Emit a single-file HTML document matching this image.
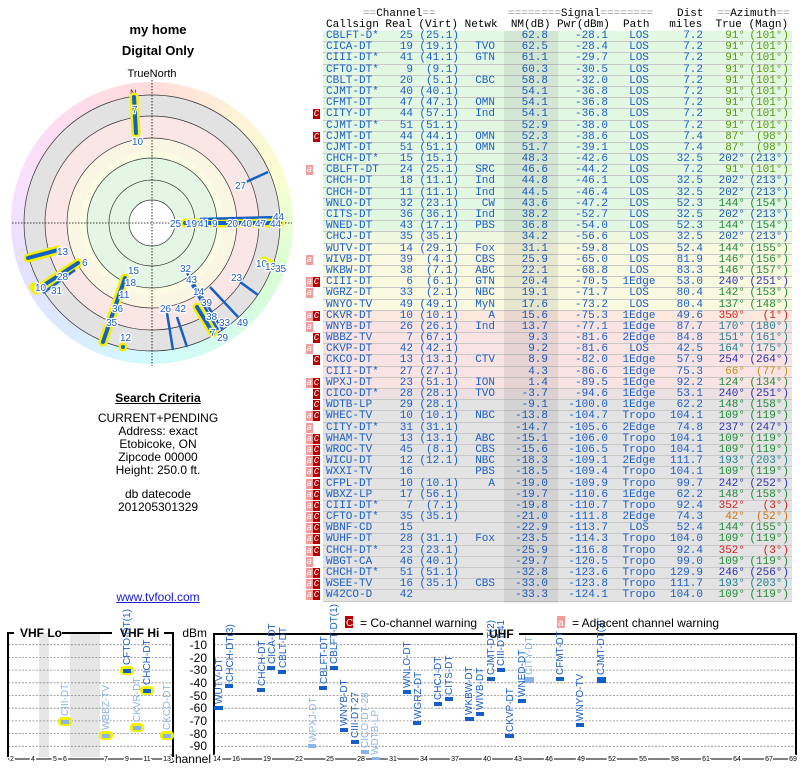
<!DOCTYPE html>
<html><head><meta charset="utf-8"><style>
body{margin:0;width:800px;height:768px;background:#fff;position:relative;overflow:hidden;font-family:"Liberation Sans",sans-serif}
.t{position:absolute;left:0;width:316px;text-align:center;font-size:12px;color:#000}
.mono{font-family:"Liberation Mono",monospace;font-size:11px;color:#1a5fc8}
.hd{position:absolute;white-space:pre;font-family:"Liberation Mono",monospace;font-size:11px;color:#000;line-height:11px}
#tbl{position:absolute;left:323px;top:31px;width:469px}
.r{position:relative;height:11.2px;box-sizing:border-box;border-bottom:1px solid #c8c8c8;line-height:11px;white-space:pre}
.r span{position:absolute;top:0}
.G{background:#e3f8e3}.Y1{background:#eff8df}.Y{background:#f9f9e0}.P1{background:#fce8dc}.P{background:#fae3e3}.P2{background:#ece0e2}.Q{background:#e3e3e3}
.cs{left:3px}.re{right:379px}.vi{right:333px}.nw{right:297px}.nm{right:244px}.pw{right:184px}.pa{left:297px;width:38px;text-align:center}.di{right:89px}.tr{right:47px}.mg{right:3px}
.ba{position:absolute;top:0;left:-17px;width:7px;height:10px;background:#f39a9a;color:#fff;font-size:9px;line-height:10px;text-align:center}
.bc{position:absolute;top:0;left:-10px;width:7px;height:10px;background:#b80000;color:#fff;font-size:9px;line-height:10px;text-align:center}
.ol{color:#5a9a10}.bl{color:#2058b0}.gr{color:#1f8a3a}.pu{color:#3030b0}.rd{color:#d02020}.te{color:#20808f}.go{color:#c09020}.or{color:#d07010}
</style></head><body>
<div class="t" style="top:22px;font-size:13px;font-weight:bold">my home</div>
<div class="t" style="top:43px;font-size:13px;font-weight:bold">Digital Only</div>
<div class="t" style="top:68px;left:0;width:304px;font-size:11px">TrueNorth</div>
<div style="position:absolute;left:11px;top:82px;width:282px;height:282px;border-radius:50%;background:conic-gradient(hsl(0,100%,93%),hsl(40,100%,92%),hsl(70,100%,91%),hsl(110,90%,91%),hsl(150,90%,91%),hsl(185,100%,91%),hsl(215,100%,93%),hsl(250,100%,94%),hsl(290,100%,94%),hsl(330,100%,93%),hsl(360,100%,93%))"></div>
<svg style="position:absolute;left:0;top:0" width="320" height="380" viewBox="0 0 320 380">
<circle cx="152" cy="223" r="128" fill="#e2e2e2" stroke="#333" stroke-width="0.7"/>
<circle cx="152" cy="223" r="107" fill="#fbe6e6" stroke="#333" stroke-width="0.7"/>
<circle cx="152" cy="223" r="85" fill="#fbf6e4" stroke="#333" stroke-width="0.7"/>
<circle cx="152" cy="223" r="72" fill="#f9fbe2" stroke="none"/>
<circle cx="152" cy="223" r="65" fill="#e4f6e4" stroke="#333" stroke-width="0.7"/>
<circle cx="152" cy="223" r="43" fill="#e4f6e4" stroke="#333" stroke-width="0.7"/>
<circle cx="152" cy="223" r="23" fill="#fff" stroke="#333" stroke-width="0.7"/>
<line x1="12" y1="223" x2="292" y2="223" stroke="#000" stroke-width="0.8" stroke-dasharray="1.5,1.5"/>
<line x1="152" y1="80" x2="152" y2="366" stroke="#000" stroke-width="0.8" stroke-dasharray="1.5,1.5"/>
<text x="130" y="96" font-size="9" fill="#c00000">N</text>
<g stroke="#f0f000" stroke-width="9" stroke-linecap="round">
<line x1="134" y1="97" x2="136" y2="133"/><line x1="185" y1="223" x2="280" y2="223"/><line x1="28" y1="258" x2="58" y2="250"/><line x1="41" y1="287" x2="78" y2="263"/><line x1="125" y1="278" x2="103" y2="342"/><line x1="123" y1="347" x2="123" y2="347"/><line x1="197" y1="307" x2="213" y2="333"/><line x1="264" y1="261" x2="270" y2="264"/><line x1="34" y1="287" x2="36" y2="290"/>
</g>
<g stroke="#1560c8" stroke-width="4" stroke-linecap="round">
<line x1="134" y1="97" x2="136" y2="133"/><line x1="185" y1="223" x2="280" y2="223"/><line x1="28" y1="258" x2="58" y2="250"/><line x1="41" y1="287" x2="78" y2="263"/><line x1="125" y1="278" x2="103" y2="342"/><line x1="123" y1="347" x2="123" y2="347"/><line x1="197" y1="307" x2="213" y2="333"/>
</g>
<g stroke="#1560c8" stroke-width="2.5">
<line x1="200" y1="219" x2="280" y2="217"/><line x1="246" y1="182" x2="268" y2="172"/><line x1="167" y1="313" x2="173" y2="350"/><line x1="177" y1="317" x2="187" y2="347"/><line x1="187" y1="273" x2="223" y2="330"/><line x1="192" y1="285" x2="218" y2="330"/><line x1="210" y1="287" x2="238" y2="317"/><line x1="240" y1="282" x2="258" y2="295"/><line x1="43" y1="293" x2="75" y2="270"/>
</g>
<g font-size="10" fill="#1a5fc8" stroke="#fff" stroke-width="2.5" paint-order="stroke" font-family="Liberation Sans">
<text x="132" y="113">7</text><text x="132" y="145">10</text><text x="235" y="189">27</text>
<text x="170" y="227">25</text><text x="186" y="227">19</text><text x="198" y="227">41</text><text x="212" y="227">9</text><text x="227" y="227">20</text><text x="241" y="227">40</text><text x="255" y="227">47</text><text x="270" y="227">44</text><text x="273" y="220">44</text>
<text x="57" y="255">13</text><text x="82" y="266">6</text><text x="57" y="280">28</text><text x="35" y="291">10</text><text x="51" y="294">31</text>
<text x="128" y="274">15</text><text x="125" y="286">18</text><text x="119" y="298">11</text><text x="112" y="312">36</text><text x="106" y="326">35</text><text x="120" y="341">12</text>
<text x="160" y="312">26</text><text x="175" y="312">42</text><text x="180" y="272">32</text><text x="186" y="283">43</text><text x="193" y="295">14</text><text x="201" y="306">39</text><text x="206" y="320">38</text><text x="219" y="326">33</text><text x="237" y="326">49</text><text x="231" y="281">23</text><text x="210" y="336">7</text><text x="217" y="341">29</text>
<text x="256" y="267">10</text><text x="265" y="270">13</text><text x="275" y="272">35</text>
</g>
</svg>
<div class="t" style="top:391px;font-weight:bold;text-decoration:underline">Search Criteria</div>
<div class="t" style="top:411px">CURRENT+PENDING</div>
<div class="t" style="top:424px">Address: exact</div>
<div class="t" style="top:437px">Etobicoke, ON</div>
<div class="t" style="top:450px">Zipcode 00000</div>
<div class="t" style="top:463px">Height: 250.0 ft.</div>
<div class="t" style="top:487px">db datecode</div>
<div class="t" style="top:500px">201205301329</div>
<div class="t" style="top:590px;color:#1a1ad0;text-decoration:underline">www.tvfool.com</div>

<div class="hd" style="left:363px;top:9px"><span style="color:#999">==</span>Channel<span style="color:#999">==</span></div>
<div class="hd" style="left:508px;top:9px"><span style="color:#999">========</span>Signal<span style="color:#999">========</span></div>
<div class="hd" style="left:677px;top:9px">Dist</div>
<div class="hd" style="left:717px;top:9px"><span style="color:#999">==</span>Azimuth<span style="color:#999">==</span></div>
<div class="hd" style="left:326px;top:20px">Callsign Real (Virt) Netwk  NM(dB) Pwr(dBm)  Path   miles  True (Magn)</div>
<div style="position:absolute;left:504px;top:31px;width:54px;height:572px;background:rgba(0,0,0,0.07);z-index:2;pointer-events:none"></div>
<div id="tbl" class="mono">
<div class="r G"><span class="cs">CBLFT-D*</span><span class="re">25</span><span class="vi">(25.1)</span><span class="nm">62.8</span><span class="pw">-28.1</span><span class="pa">LOS</span><span class="di">7.2</span><span class="tr ol">91°</span><span class="mg ol">(101°)</span></div>
<div class="r G"><span class="cs">CICA-DT</span><span class="re">19</span><span class="vi">(19.1)</span><span class="nw">TVO</span><span class="nm">62.5</span><span class="pw">-28.4</span><span class="pa">LOS</span><span class="di">7.2</span><span class="tr ol">91°</span><span class="mg ol">(101°)</span></div>
<div class="r G"><span class="cs">CIII-DT*</span><span class="re">41</span><span class="vi">(41.1)</span><span class="nw">GTN</span><span class="nm">61.1</span><span class="pw">-29.7</span><span class="pa">LOS</span><span class="di">7.2</span><span class="tr ol">91°</span><span class="mg ol">(101°)</span></div>
<div class="r G"><span class="cs">CFTO-DT*</span><span class="re">9</span><span class="vi">(9.1)</span><span class="nm">60.3</span><span class="pw">-30.5</span><span class="pa">LOS</span><span class="di">7.2</span><span class="tr ol">91°</span><span class="mg ol">(101°)</span></div>
<div class="r G"><span class="cs">CBLT-DT</span><span class="re">20</span><span class="vi">(5.1)</span><span class="nw">CBC</span><span class="nm">58.8</span><span class="pw">-32.0</span><span class="pa">LOS</span><span class="di">7.2</span><span class="tr ol">91°</span><span class="mg ol">(101°)</span></div>
<div class="r G"><span class="cs">CJMT-DT*</span><span class="re">40</span><span class="vi">(40.1)</span><span class="nm">54.1</span><span class="pw">-36.8</span><span class="pa">LOS</span><span class="di">7.2</span><span class="tr ol">91°</span><span class="mg ol">(101°)</span></div>
<div class="r G"><span class="cs">CFMT-DT</span><span class="re">47</span><span class="vi">(47.1)</span><span class="nw">OMN</span><span class="nm">54.1</span><span class="pw">-36.8</span><span class="pa">LOS</span><span class="di">7.2</span><span class="tr ol">91°</span><span class="mg ol">(101°)</span></div>
<div class="r G"><i class="bc">C</i><span class="cs">CITY-DT</span><span class="re">44</span><span class="vi">(57.1)</span><span class="nw">Ind</span><span class="nm">54.1</span><span class="pw">-36.8</span><span class="pa">LOS</span><span class="di">7.2</span><span class="tr ol">91°</span><span class="mg ol">(101°)</span></div>
<div class="r G"><span class="cs">CJMT-DT*</span><span class="re">51</span><span class="vi">(51.1)</span><span class="nm">52.9</span><span class="pw">-38.0</span><span class="pa">LOS</span><span class="di">7.2</span><span class="tr ol">91°</span><span class="mg ol">(101°)</span></div>
<div class="r G"><i class="bc">C</i><span class="cs">CJMT-DT</span><span class="re">44</span><span class="vi">(44.1)</span><span class="nw">OMN</span><span class="nm">52.3</span><span class="pw">-38.6</span><span class="pa">LOS</span><span class="di">7.4</span><span class="tr ol">87°</span><span class="mg ol">(98°)</span></div>
<div class="r G"><span class="cs">CJMT-DT</span><span class="re">51</span><span class="vi">(51.1)</span><span class="nw">OMN</span><span class="nm">51.7</span><span class="pw">-39.1</span><span class="pa">LOS</span><span class="di">7.4</span><span class="tr ol">87°</span><span class="mg ol">(98°)</span></div>
<div class="r G"><span class="cs">CHCH-DT*</span><span class="re">15</span><span class="vi">(15.1)</span><span class="nm">48.3</span><span class="pw">-42.6</span><span class="pa">LOS</span><span class="di">32.5</span><span class="tr bl">202°</span><span class="mg bl">(213°)</span></div>
<div class="r G"><i class="ba">a</i><span class="cs">CBLFT-DT</span><span class="re">24</span><span class="vi">(25.1)</span><span class="nw">SRC</span><span class="nm">46.6</span><span class="pw">-44.2</span><span class="pa">LOS</span><span class="di">7.2</span><span class="tr ol">91°</span><span class="mg ol">(101°)</span></div>
<div class="r G"><span class="cs">CHCH-DT</span><span class="re">18</span><span class="vi">(11.1)</span><span class="nw">Ind</span><span class="nm">44.8</span><span class="pw">-46.1</span><span class="pa">LOS</span><span class="di">32.5</span><span class="tr bl">202°</span><span class="mg bl">(213°)</span></div>
<div class="r G"><span class="cs">CHCH-DT</span><span class="re">11</span><span class="vi">(11.1)</span><span class="nw">Ind</span><span class="nm">44.5</span><span class="pw">-46.4</span><span class="pa">LOS</span><span class="di">32.5</span><span class="tr bl">202°</span><span class="mg bl">(213°)</span></div>
<div class="r G"><span class="cs">WNLO-DT</span><span class="re">32</span><span class="vi">(23.1)</span><span class="nw">CW</span><span class="nm">43.6</span><span class="pw">-47.2</span><span class="pa">LOS</span><span class="di">52.3</span><span class="tr gr">144°</span><span class="mg gr">(154°)</span></div>
<div class="r G"><span class="cs">CITS-DT</span><span class="re">36</span><span class="vi">(36.1)</span><span class="nw">Ind</span><span class="nm">38.2</span><span class="pw">-52.7</span><span class="pa">LOS</span><span class="di">32.5</span><span class="tr bl">202°</span><span class="mg bl">(213°)</span></div>
<div class="r G"><span class="cs">WNED-DT</span><span class="re">43</span><span class="vi">(17.1)</span><span class="nw">PBS</span><span class="nm">36.8</span><span class="pw">-54.0</span><span class="pa">LOS</span><span class="di">52.3</span><span class="tr gr">144°</span><span class="mg gr">(154°)</span></div>
<div class="r Y1"><span class="cs">CHCJ-DT</span><span class="re">35</span><span class="vi">(35.1)</span><span class="nm">34.2</span><span class="pw">-56.6</span><span class="pa">LOS</span><span class="di">32.5</span><span class="tr bl">202°</span><span class="mg bl">(213°)</span></div>
<div class="r Y"><span class="cs">WUTV-DT</span><span class="re">14</span><span class="vi">(29.1)</span><span class="nw">Fox</span><span class="nm">31.1</span><span class="pw">-59.8</span><span class="pa">LOS</span><span class="di">52.4</span><span class="tr gr">144°</span><span class="mg gr">(155°)</span></div>
<div class="r Y"><i class="ba">a</i><span class="cs">WIVB-DT</span><span class="re">39</span><span class="vi">(4.1)</span><span class="nw">CBS</span><span class="nm">25.9</span><span class="pw">-65.0</span><span class="pa">LOS</span><span class="di">81.9</span><span class="tr gr">146°</span><span class="mg gr">(156°)</span></div>
<div class="r Y"><span class="cs">WKBW-DT</span><span class="re">38</span><span class="vi">(7.1)</span><span class="nw">ABC</span><span class="nm">22.1</span><span class="pw">-68.8</span><span class="pa">LOS</span><span class="di">83.3</span><span class="tr gr">146°</span><span class="mg gr">(157°)</span></div>
<div class="r Y"><i class="ba">a</i><i class="bc">C</i><span class="cs">CIII-DT</span><span class="re">6</span><span class="vi">(6.1)</span><span class="nw">GTN</span><span class="nm">20.4</span><span class="pw">-70.5</span><span class="pa">1Edge</span><span class="di">53.0</span><span class="tr pu">240°</span><span class="mg pu">(251°)</span></div>
<div class="r Y"><i class="ba">a</i><span class="cs">WGRZ-DT</span><span class="re">33</span><span class="vi">(2.1)</span><span class="nw">NBC</span><span class="nm">19.1</span><span class="pw">-71.7</span><span class="pa">LOS</span><span class="di">80.4</span><span class="tr gr">142°</span><span class="mg gr">(153°)</span></div>
<div class="r Y"><span class="cs">WNYO-TV</span><span class="re">49</span><span class="vi">(49.1)</span><span class="nw">MyN</span><span class="nm">17.6</span><span class="pw">-73.2</span><span class="pa">LOS</span><span class="di">80.4</span><span class="tr gr">137°</span><span class="mg gr">(148°)</span></div>
<div class="r P1"><i class="ba">a</i><i class="bc">C</i><span class="cs">CKVR-DT</span><span class="re">10</span><span class="vi">(10.1)</span><span class="nw">A</span><span class="nm">15.6</span><span class="pw">-75.3</span><span class="pa">1Edge</span><span class="di">49.6</span><span class="tr rd">350°</span><span class="mg rd">(1°)</span></div>
<div class="r P"><i class="ba">a</i><span class="cs">WNYB-DT</span><span class="re">26</span><span class="vi">(26.1)</span><span class="nw">Ind</span><span class="nm">13.7</span><span class="pw">-77.1</span><span class="pa">1Edge</span><span class="di">87.7</span><span class="tr te">170°</span><span class="mg te">(180°)</span></div>
<div class="r P"><i class="bc">C</i><span class="cs">WBBZ-TV</span><span class="re">7</span><span class="vi">(67.1)</span><span class="nm">9.3</span><span class="pw">-81.6</span><span class="pa">2Edge</span><span class="di">84.8</span><span class="tr te">151°</span><span class="mg te">(161°)</span></div>
<div class="r P"><i class="ba">a</i><span class="cs">CKVP-DT</span><span class="re">42</span><span class="vi">(42.1)</span><span class="nm">9.2</span><span class="pw">-81.6</span><span class="pa">LOS</span><span class="di">42.5</span><span class="tr te">164°</span><span class="mg te">(175°)</span></div>
<div class="r P"><i class="bc">C</i><span class="cs">CKCO-DT</span><span class="re">13</span><span class="vi">(13.1)</span><span class="nw">CTV</span><span class="nm">8.9</span><span class="pw">-82.0</span><span class="pa">1Edge</span><span class="di">57.9</span><span class="tr pu">254°</span><span class="mg pu">(264°)</span></div>
<div class="r P"><span class="cs">CIII-DT*</span><span class="re">27</span><span class="vi">(27.1)</span><span class="nm">4.3</span><span class="pw">-86.6</span><span class="pa">1Edge</span><span class="di">75.3</span><span class="tr go">66°</span><span class="mg go">(77°)</span></div>
<div class="r P"><i class="ba">a</i><i class="bc">C</i><span class="cs">WPXJ-DT</span><span class="re">23</span><span class="vi">(51.1)</span><span class="nw">ION</span><span class="nm">1.4</span><span class="pw">-89.5</span><span class="pa">1Edge</span><span class="di">92.2</span><span class="tr gr">124°</span><span class="mg gr">(134°)</span></div>
<div class="r P2"><i class="bc">C</i><span class="cs">CICO-DT*</span><span class="re">28</span><span class="vi">(28.1)</span><span class="nw">TVO</span><span class="nm">-3.7</span><span class="pw">-94.6</span><span class="pa">1Edge</span><span class="di">53.1</span><span class="tr pu">240°</span><span class="mg pu">(251°)</span></div>
<div class="r Q"><i class="bc">C</i><span class="cs">WDTB-LP</span><span class="re">29</span><span class="vi">(28.1)</span><span class="nm">-9.1</span><span class="pw">-100.0</span><span class="pa">1Edge</span><span class="di">62.2</span><span class="tr gr">148°</span><span class="mg gr">(158°)</span></div>
<div class="r Q"><i class="ba">a</i><i class="bc">C</i><span class="cs">WHEC-TV</span><span class="re">10</span><span class="vi">(10.1)</span><span class="nw">NBC</span><span class="nm">-13.8</span><span class="pw">-104.7</span><span class="pa">Tropo</span><span class="di">104.1</span><span class="tr gr">109°</span><span class="mg gr">(119°)</span></div>
<div class="r Q"><i class="ba">a</i><span class="cs">CITY-DT*</span><span class="re">31</span><span class="vi">(31.1)</span><span class="nm">-14.7</span><span class="pw">-105.6</span><span class="pa">2Edge</span><span class="di">74.8</span><span class="tr pu">237°</span><span class="mg pu">(247°)</span></div>
<div class="r Q"><i class="ba">a</i><i class="bc">C</i><span class="cs">WHAM-TV</span><span class="re">13</span><span class="vi">(13.1)</span><span class="nw">ABC</span><span class="nm">-15.1</span><span class="pw">-106.0</span><span class="pa">Tropo</span><span class="di">104.1</span><span class="tr gr">109°</span><span class="mg gr">(119°)</span></div>
<div class="r Q"><i class="ba">a</i><i class="bc">C</i><span class="cs">WROC-TV</span><span class="re">45</span><span class="vi">(8.1)</span><span class="nw">CBS</span><span class="nm">-15.6</span><span class="pw">-106.5</span><span class="pa">Tropo</span><span class="di">104.1</span><span class="tr gr">109°</span><span class="mg gr">(119°)</span></div>
<div class="r Q"><i class="ba">a</i><i class="bc">C</i><span class="cs">WICU-DT</span><span class="re">12</span><span class="vi">(12.1)</span><span class="nw">NBC</span><span class="nm">-18.3</span><span class="pw">-109.1</span><span class="pa">2Edge</span><span class="di">111.7</span><span class="tr te">193°</span><span class="mg te">(203°)</span></div>
<div class="r Q"><i class="ba">a</i><i class="bc">C</i><span class="cs">WXXI-TV</span><span class="re">16</span><span class="nw">PBS</span><span class="nm">-18.5</span><span class="pw">-109.4</span><span class="pa">Tropo</span><span class="di">104.1</span><span class="tr gr">109°</span><span class="mg gr">(119°)</span></div>
<div class="r Q"><i class="ba">a</i><i class="bc">C</i><span class="cs">CFPL-DT</span><span class="re">10</span><span class="vi">(10.1)</span><span class="nw">A</span><span class="nm">-19.0</span><span class="pw">-109.9</span><span class="pa">Tropo</span><span class="di">99.7</span><span class="tr pu">242°</span><span class="mg pu">(252°)</span></div>
<div class="r Q"><i class="ba">a</i><i class="bc">C</i><span class="cs">WBXZ-LP</span><span class="re">17</span><span class="vi">(56.1)</span><span class="nm">-19.7</span><span class="pw">-110.6</span><span class="pa">1Edge</span><span class="di">62.2</span><span class="tr gr">148°</span><span class="mg gr">(158°)</span></div>
<div class="r Q"><i class="ba">a</i><i class="bc">C</i><span class="cs">CIII-DT*</span><span class="re">7</span><span class="vi">(7.1)</span><span class="nm">-19.8</span><span class="pw">-110.7</span><span class="pa">Tropo</span><span class="di">92.4</span><span class="tr rd">352°</span><span class="mg rd">(3°)</span></div>
<div class="r Q"><i class="ba">a</i><i class="bc">C</i><span class="cs">CFTO-DT*</span><span class="re">35</span><span class="vi">(35.1)</span><span class="nm">-21.0</span><span class="pw">-111.8</span><span class="pa">2Edge</span><span class="di">74.3</span><span class="tr or">42°</span><span class="mg or">(52°)</span></div>
<div class="r Q"><i class="ba">a</i><i class="bc">C</i><span class="cs">WBNF-CD</span><span class="re">15</span><span class="nm">-22.9</span><span class="pw">-113.7</span><span class="pa">LOS</span><span class="di">52.4</span><span class="tr gr">144°</span><span class="mg gr">(155°)</span></div>
<div class="r Q"><i class="ba">a</i><i class="bc">C</i><span class="cs">WUHF-DT</span><span class="re">28</span><span class="vi">(31.1)</span><span class="nw">Fox</span><span class="nm">-23.5</span><span class="pw">-114.3</span><span class="pa">Tropo</span><span class="di">104.0</span><span class="tr gr">109°</span><span class="mg gr">(119°)</span></div>
<div class="r Q"><i class="ba">a</i><i class="bc">C</i><span class="cs">CHCH-DT*</span><span class="re">23</span><span class="vi">(23.1)</span><span class="nm">-25.9</span><span class="pw">-116.8</span><span class="pa">Tropo</span><span class="di">92.4</span><span class="tr rd">352°</span><span class="mg rd">(3°)</span></div>
<div class="r Q"><i class="ba">a</i><span class="cs">WBGT-CA</span><span class="re">46</span><span class="vi">(40.1)</span><span class="nm">-29.7</span><span class="pw">-120.5</span><span class="pa">Tropo</span><span class="di">99.0</span><span class="tr gr">109°</span><span class="mg gr">(119°)</span></div>
<div class="r Q"><i class="ba">a</i><i class="bc">C</i><span class="cs">CHCH-DT*</span><span class="re">51</span><span class="vi">(51.1)</span><span class="nm">-32.8</span><span class="pw">-123.6</span><span class="pa">Tropo</span><span class="di">129.9</span><span class="tr pu">246°</span><span class="mg pu">(256°)</span></div>
<div class="r Q"><i class="ba">a</i><i class="bc">C</i><span class="cs">WSEE-TV</span><span class="re">16</span><span class="vi">(35.1)</span><span class="nw">CBS</span><span class="nm">-33.0</span><span class="pw">-123.8</span><span class="pa">Tropo</span><span class="di">111.7</span><span class="tr te">193°</span><span class="mg te">(203°)</span></div>
<div class="r Q"><i class="ba">a</i><i class="bc">C</i><span class="cs">W42CO-D</span><span class="re">42</span><span class="nm">-33.3</span><span class="pw">-124.1</span><span class="pa">Tropo</span><span class="di">104.0</span><span class="tr gr">109°</span><span class="mg gr">(119°)</span></div>
</div>

<svg style="position:absolute;left:0;top:600px" width="800" height="168" viewBox="0 600 800 168" font-family="Liberation Sans">
<rect x="39" y="633" width="10" height="124" fill="#e6e6e6"/><rect x="70" y="633" width="30" height="124" fill="#e6e6e6"/>
<g stroke="#888" stroke-width="0.8" stroke-dasharray="2,1.5">
<path d="M8 644.7H173M8 657.4H173M8 670.1H173M8 682.8H173M8 695.5H173M8 708.2H173M8 720.9H173M8 733.6H173M8 746.3H173"/>
<path d="M214 644.7H796M214 657.4H796M214 670.1H796M214 682.8H796M214 695.5H796M214 708.2H796M214 720.9H796M214 733.6H796M214 746.3H796"/>
</g>
<g stroke="#000" stroke-width="2" fill="none">
<path d="M8 757V633H14M62 633H112M164 633H173V757"/>
<path d="M214 757V634H483M519 634H796V757"/>
</g>
<g font-size="12" font-weight="bold"><text x="20" y="637">VHF Lo</text><text x="120" y="637">VHF Hi</text><text x="489" y="638">UHF</text></g>
<g font-size="12" text-anchor="end"><text x="207" y="637">dBm</text><text x="207" y="649">-10</text><text x="207" y="662">-20</text><text x="207" y="674">-30</text><text x="207" y="687">-40</text><text x="207" y="700">-50</text><text x="207" y="712">-60</text><text x="207" y="725">-70</text><text x="207" y="738">-80</text><text x="207" y="750">-90</text><text x="211" y="763">Channel</text></g>
<line x1="8" y1="759" x2="173" y2="759" stroke="#000"/><line x1="214" y1="759" x2="796" y2="759" stroke="#000"/>
<g font-size="7" text-anchor="middle" stroke="#fff" stroke-width="3" paint-order="stroke">
<text x="12" y="761">2</text><text x="33" y="761">4</text><text x="55" y="761">5</text><text x="65" y="761">6</text><text x="106" y="761">7</text><text x="127" y="761">9</text><text x="147" y="761">11</text><text x="167" y="761">13</text>
<text x="217" y="761">14</text><text x="236" y="761">16</text><text x="267" y="761">19</text><text x="299" y="761">22</text><text x="330" y="761">25</text><text x="361" y="761">28</text><text x="393" y="761">31</text><text x="424" y="761">34</text><text x="455" y="761">37</text><text x="487" y="761">40</text><text x="518" y="761">43</text><text x="549" y="761">46</text><text x="581" y="761">49</text><text x="612" y="761">52</text><text x="643" y="761">55</text><text x="675" y="761">58</text><text x="706" y="761">61</text><text x="737" y="761">64</text><text x="769" y="761">67</text><text x="793" y="761">69</text>
</g>
<g fill="#f0f000"><rect x="58" y="717" width="14" height="9" rx="4"/><rect x="99" y="731" width="14" height="9" rx="4"/><rect x="120" y="666" width="14" height="9" rx="4"/><rect x="130" y="723" width="14" height="9" rx="4"/><rect x="140" y="686" width="14" height="9" rx="4"/><rect x="160" y="731" width="14" height="9" rx="4"/></g>
<g fill="#1560c8"><rect x="123" y="669" width="8" height="4"/><rect x="143" y="689" width="8" height="4"/>
<rect x="214" y="706" width="9" height="4"/><rect x="225" y="684" width="8" height="4"/><rect x="257" y="688" width="8" height="4"/><rect x="267" y="666" width="8" height="4"/><rect x="278" y="670" width="8" height="4"/><rect x="319" y="686" width="8" height="4"/><rect x="330" y="666" width="8" height="4"/><rect x="340" y="728" width="8" height="4"/><rect x="351" y="740" width="8" height="4"/><rect x="403" y="690" width="8" height="4"/><rect x="413" y="721" width="8" height="4"/><rect x="434" y="702" width="8" height="4"/><rect x="445" y="697" width="8" height="4"/><rect x="465" y="717" width="9" height="4"/><rect x="476" y="712" width="8" height="4"/><rect x="487" y="677" width="8" height="4"/><rect x="497" y="668" width="8" height="4"/><rect x="505" y="734" width="9" height="4"/><rect x="518" y="699" width="8" height="4"/><rect x="556" y="677" width="8" height="4"/><rect x="576" y="723" width="8" height="4"/><rect x="597" y="677" width="9" height="6"/></g>
<g fill="#8ab4e6"><rect x="61" y="720" width="8" height="4"/><rect x="102" y="734" width="8" height="4"/><rect x="133" y="726" width="8" height="4"/><rect x="163" y="734" width="8" height="4"/><rect x="308" y="744" width="8" height="4"/><rect x="361" y="750" width="8" height="4"/><rect x="372" y="757" width="8" height="3"/><rect x="524" y="677" width="10" height="6"/></g>
<g font-size="10" fill="#1a5fc8">
<text transform="translate(130,665) rotate(-90)">CFTO-DT(1)</text><text transform="translate(150,685) rotate(-90)">CHCH-DT</text>
<text transform="translate(222,704) rotate(-90)">WUTV-DT</text><text transform="translate(233,682) rotate(-90)">CHCH-DT(3)</text><text transform="translate(265,686) rotate(-90)">CHCH-DT</text><text transform="translate(275,664) rotate(-90)">CICA-DT</text><text transform="translate(286,668) rotate(-90)">CBLT-DT</text><text transform="translate(327,684) rotate(-90)">CBLFT-DT</text><text transform="translate(337,664) rotate(-90)">CBLFT-DT(1)</text><text transform="translate(347,726) rotate(-90)">WNYB-DT</text><text transform="translate(358,738) rotate(-90)">CIII-DT-27</text><text transform="translate(410,688) rotate(-90)">WNLO-DT</text><text transform="translate(421,719) rotate(-90)">WGRZ-DT</text><text transform="translate(441,700) rotate(-90)">CHCJ-DT</text><text transform="translate(452,695) rotate(-90)">CITS-DT</text><text transform="translate(472,715) rotate(-90)">WKBW-DT</text><text transform="translate(483,710) rotate(-90)">WIVB-DT</text><text transform="translate(494,675) rotate(-90)">CJMT-DT(2)</text><text transform="translate(504,666) rotate(-90)">CIII-DT-41</text><text transform="translate(513,732) rotate(-90)">CKVP-DT</text><text transform="translate(525,697) rotate(-90)">WNED-DT</text><text transform="translate(563,675) rotate(-90)">CFMT-DT</text><text transform="translate(583,721) rotate(-90)">WNYO-TV</text><text transform="translate(604,675) rotate(-90)">CJMT-DT(3)</text>
</g>
<g font-size="10" fill="#8ab4e6">
<text transform="translate(68,716) rotate(-90)">CIII-DT</text><text transform="translate(109,730) rotate(-90)">WBBZ-TV</text><text transform="translate(140,722) rotate(-90)">CKVR-DT</text><text transform="translate(170,730) rotate(-90)">CKCO-DT</text><text transform="translate(316,742) rotate(-90)">WPXJ-DT</text><text transform="translate(368,748) rotate(-90)">CICO-DT-28</text><text transform="translate(378,755) rotate(-90)">WDTB-LP</text><text transform="translate(532,675) rotate(-90)">CITY-DT</text>
</g>
<rect x="345" y="616" width="8" height="12" fill="#b80000"/><text x="346" y="626" font-size="10" fill="#fff">C</text>
<text x="360" y="627" font-size="12">= Co-channel warning</text>
<rect x="557" y="616" width="8" height="12" fill="#f39a9a"/><text x="558" y="626" font-size="10" fill="#fff">a</text>
<text x="572" y="627" font-size="12">= Adjacent channel warning</text>
</svg>
</body></html>
